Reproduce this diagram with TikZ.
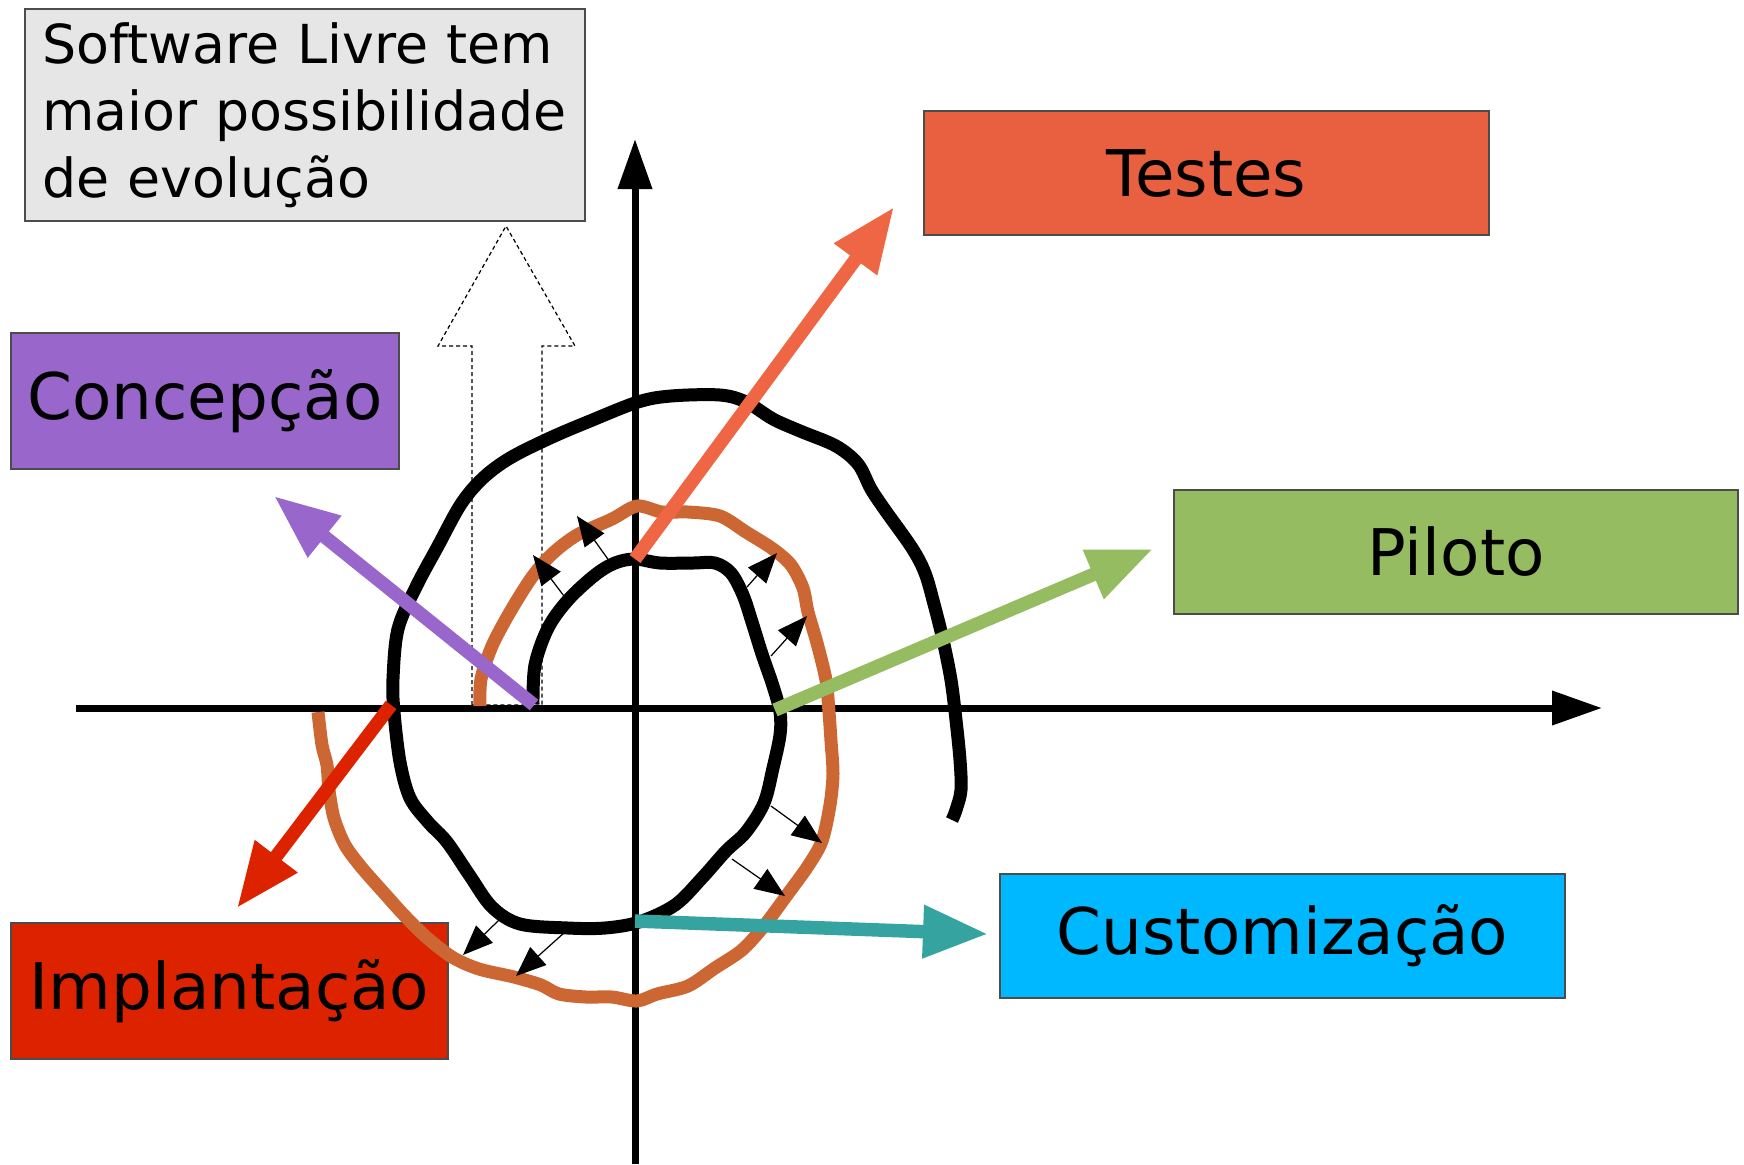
\documentclass[tikz,border=0pt]{standalone}
\usepackage{fontspec}
\setmainfont{DejaVu Sans}
\usetikzlibrary{arrows.meta}
\definecolor{testesbox}{RGB}{233,96,64}
\definecolor{testesray}{RGB}{238,102,68}
\definecolor{concepcao}{RGB}{153,102,204}
\definecolor{piloto}{RGB}{149,188,96}
\definecolor{custombox}{RGB}{0,184,255}
\definecolor{customray}{RGB}{53,163,160}
\definecolor{implant}{RGB}{221,34,0}
\definecolor{espiral}{RGB}{204,102,51}
\definecolor{nota}{RGB}{230,230,230}
\newcommand{\rotulo}{\fontsize{18.3}{22}\selectfont}

\begin{document}
\begin{tikzpicture}
                \tikzset{x=0.1mm, y=-0.1mm}
                \tikzstyle{fase}=[rectangle, draw=black!70, line width=0.4pt, inner sep=0pt, font=\rotulo]
                \tikzstyle{raio}=[line width=1.35mm, -{Triangle[length=6.5mm, width=5mm]}]
                \tikzstyle{eixo}=[line width=0.7mm, -{Triangle[length=5mm, width=3.3mm]}]
                \tikzstyle{volta}=[line width=1.3mm, line join=round]
                \tikzstyle{empurra}=[line width=0.35pt, -{Triangle[length=3mm, width=2.4mm]}]

                \useasboundingbox (0,0) rectangle (1744,1164);

                % caixas
                \draw (305, 115)    node[fase, fill=nota, minimum width=56mm, minimum height=21.2mm, text width=52.5mm, inner xsep=1.75mm, align=left, font=\fontsize{15.3}{19}\selectfont]  (nota)  {Software Livre tem maior possibilidade de evolução};
                \draw (1206.5, 173) node[fase, fill=testesbox, minimum width=56.5mm, minimum height=12.4mm] (testes)  {Testes};
                \draw (205, 401)    node[fase, fill=concepcao, minimum width=38.8mm, minimum height=13.6mm] (concep)  {Concepção};
                \draw (1456, 552)   node[fase, fill=piloto, minimum width=56.4mm, minimum height=12.4mm]    (piloto)  {Piloto};
                \draw (1282.5, 936) node[fase, fill=custombox, minimum width=56.5mm, minimum height=12.4mm] (custom)  {Customização};
                \draw (229.5, 991)  node[fase, fill=implant, minimum width=43.7mm, minimum height=13.6mm]   (implant) {Implantação};

                % seta tracejada
                \draw [line width=0.35pt, dash pattern=on 0.4mm off 0.3mm]
                      (472,705) -- (472,346) -- (438,346) -- (506,226) -- (575,346)
                      -- (542,346) -- (542,705) -- cycle;

                % eixos
                \coordinate (xo) at (76, 708);
                \coordinate (xf) at (1602, 708);
                \coordinate (yo) at (635, 1164);
                \coordinate (yf) at (635, 139);
                \draw [eixo]        (xo) -- (xf);
                \draw [eixo]        (yo) -- (yf);

                % espirais
                \draw [volta] plot[smooth, tension=0.55] coordinates {
                      (533,704) (535,665) (548,628) (568,600) (595,575) (615,563) (635,559)
                      (660,563) (693,563) (715,563) (731,573) (743,595) (752,622) (762,654)
                      (773,686) (780,712) (780,735) (773,768) (764,803) (746,832) (726,851)
                      (702,878) (675,905) (639,922) (605,928) (568,928) (520,924) (492,907)
                      (470,876) (447,842) (428,822) (410,798) (400,762) (394,712) (393,679)
                      (398,629) (416,587) (438,546) (461,504) (483,478) (510,458) (550,438)
                      (590,421) (638,402) (671,396) (720,395) (746,402) (773,419) (800,431)
                      (836,446) (858,464) (871,489) (885,510) (912,548) (925,573) (934,604)
                      (943,640) (951,680) (956,720) (960,760) (961,790) (956,810) (952,820)};
                \draw [volta, espiral] plot[smooth, tension=0.5] coordinates {
                      (480,706) (481,679) (492,646) (510,612) (532,577) (552,554) (577,535)
                      (612,519) (637,506) (662,512) (688,512) (720,516) (746,532) (773,549)
                      (791,565) (803,588) (808,612) (817,643) (826,680) (829,712) (831,741)
                      (833,774) (830,805) (822,841) (808,866) (787,895) (764,926) (742,950)
                      (715,968) (688,986) (657,994) (637,1001) (612,997) (586,997) (559,994)
                      (541,985) (514,977) (479,969) (452,957) (425,936) (403,914) (385,894)
                      (362,868) (345,845) (334,818) (329,790) (327,765) (322,745) (318,712)};

                % setas pequenas
                \draw [empurra]     (567,600) -- (533,555);
                \draw [empurra]     (610,562) -- (577,516);
                \draw [empurra]     (747,587) -- (777,553);
                \draw [empurra]     (771,656) -- (807,616);
                \draw [empurra]     (771,806) -- (822,843);
                \draw [empurra]     (732,859) -- (785,896);
                \draw [empurra]     (499,920) -- (463,955);
                \draw [empurra]     (565,932) -- (516,976);

                % setas das fases
                \coordinate (sT) at (635, 559);
                \coordinate (pT) at (894, 207);
                \coordinate (sC) at (534, 705);
                \coordinate (pC) at (274, 496);
                \coordinate (sP) at (775, 710);
                \coordinate (pP) at (1153, 549);
                \coordinate (sU) at (635, 921);
                \coordinate (pU) at (988, 934);
                \coordinate (sI) at (391, 705);
                \coordinate (pI) at (237, 908);
                \draw [raio, testesray]  (sT) -- (pT);
                \draw [raio, concepcao]  (sC) -- (pC);
                \draw [raio, piloto]     (sP) -- (pP);
                \draw [raio, customray]  (sU) -- (pU);
                \draw [raio, implant]    (sI) -- (pI);
            \end{tikzpicture}
\end{document}
